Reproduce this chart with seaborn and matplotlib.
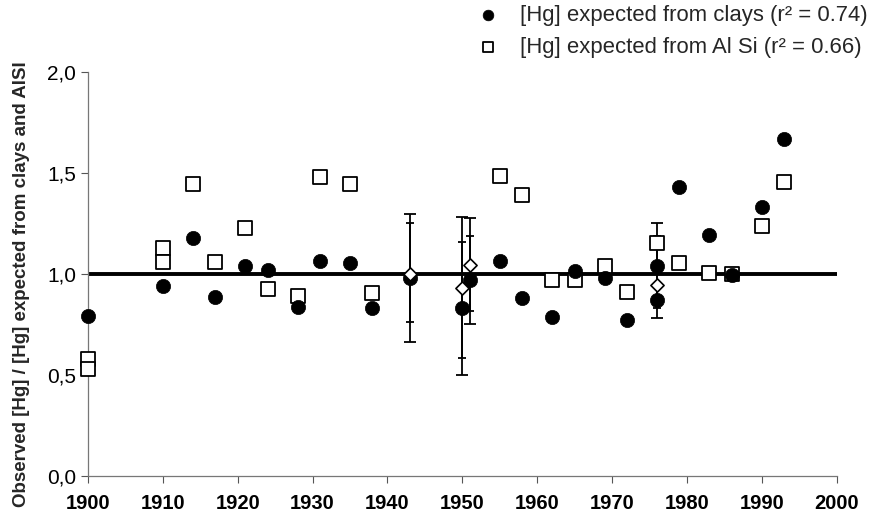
import numpy as np
import pandas as pd
import matplotlib
matplotlib.use("Agg")
import matplotlib.pyplot as plt
import seaborn as sns

# Valores
years_clay = [1900, 1910, 1914, 1917, 1921, 1924, 1928, 1931, 1935, 1938, 1943,
              1950, 1951, 1955, 1958, 1962, 1965, 1969, 1972, 1976, 1976, 1979,
              1983, 1986, 1990, 1993]
ratio_clay = [0.79, 0.94, 1.18, 0.885, 1.04, 1.02, 0.835, 1.066, 1.053, 0.83, 0.98,
              0.833, 0.97, 1.066, 0.883, 0.789, 1.013, 0.978, 0.772, 1.04, 0.871, 1.432,
              1.193, 0.995, 1.33, 1.667]

years_alsi = [1900, 1900, 1910, 1910, 1914, 1917, 1921, 1924, 1928, 1931, 1935, 1938,
              1955, 1958, 1962, 1965, 1969, 1972, 1976, 1979, 1983, 1986, 1990, 1993]
ratio_alsi = [0.578, 0.528, 1.13, 1.06, 1.445, 1.06, 1.226, 0.924, 0.893, 1.479, 1.445, 0.908,
              1.485, 1.391, 0.97, 0.97, 1.04, 0.912, 1.152, 1.056, 1.006, 0.998, 1.239, 1.457]

# Pontos com barras de erro (losangos)
years_err = [1943, 1950, 1951, 1976]
ratio_err = [1.0, 0.932, 1.045, 0.946]
outer_low = [0.662, 0.50, 0.752, 0.781]
outer_high = [1.297, 1.284, 1.276, 1.251]
inner_low = [0.762, 0.583, 0.817, 0.83]
inner_high = [1.254, 1.16, 1.188, 1.19]

x_ticks = [1900, 1910, 1920, 1930, 1940, 1950, 1960, 1970, 1980, 1990, 2000]
y_ticks = [0.0, 0.5, 1.0, 1.5, 2.0]
y_ticklabels = ["0,0", "0,5", "1,0", "1,5", "2,0"]

clay_df = pd.DataFrame({"year": years_clay, "ratio": ratio_clay})
alsi_df = pd.DataFrame({"year": years_alsi, "ratio": ratio_alsi})

sns.set_style("ticks")
plt.rcParams["font.family"] = ["Liberation Sans", "DejaVu Sans"]

fig = plt.figure(figsize=(8.77, 5.2), dpi=100)
ax = fig.add_axes([0.1003, 0.0846, 0.8537, 0.777])

# linha de referencia
ax.axhline(1.0, color="black", lw=2.8, zorder=2)

# barras de erro
y = np.array(ratio_err)
ax.errorbar(years_err, ratio_err,
            yerr=[y - np.array(outer_low), np.array(outer_high) - y],
            fmt="none", ecolor="black", elinewidth=1.3, capsize=4, capthick=1.3,
            zorder=3, clip_on=False)
ax.errorbar(years_err, ratio_err,
            yerr=[y - np.array(inner_low), np.array(inner_high) - y],
            fmt="none", ecolor="black", elinewidth=1.3, capsize=3, capthick=1.3,
            zorder=3, clip_on=False)

sns.scatterplot(data=alsi_df, x="year", y="ratio", ax=ax, marker="s", s=95,
                facecolor="white", edgecolor="black", linewidth=1.3,
                label="[Hg] expected from Al Si (r² = 0.66)", zorder=4, clip_on=False)
sns.scatterplot(data=clay_df, x="year", y="ratio", ax=ax, marker="o", s=105,
                color="black", edgecolor="black", linewidth=0.5,
                label="[Hg] expected from clays (r² = 0.74)", zorder=5, clip_on=False)
ax.scatter(years_err, ratio_err, marker="D", s=45, facecolor="white",
           edgecolor="black", linewidth=1.2, zorder=6, clip_on=False)

ax.set_xlim(1900, 2000)
ax.set_ylim(0, 2.0)
ax.set_xticks(x_ticks)
ax.set_xticklabels([str(t) for t in x_ticks], fontsize=14.5, fontweight="bold")
ax.set_yticks(y_ticks)
ax.set_yticklabels(y_ticklabels, fontsize=15)
ax.tick_params(axis="both", colors="#555555", length=5, width=0.8, labelcolor="black")
ax.tick_params(axis="x", pad=8)
ax.set_xlabel("")
ax.set_ylabel("Observed [Hg] / [Hg] expected from clays and AlSI",
              fontsize=13.5, fontweight="bold")
ax.yaxis.set_label_coords(-0.077, 0.475)
sns.despine(ax=ax)
for side in ["left", "bottom"]:
    ax.spines[side].set_color("#777777")
    ax.spines[side].set_linewidth(0.9)

handles, labels = ax.get_legend_handles_labels()
ax.legend(handles[::-1], labels[::-1], loc="upper right",
          bbox_to_anchor=(0.999, 1.008), bbox_transform=fig.transFigure,
          frameon=False, fontsize=15.9, handletextpad=0.95, labelspacing=0.5,
          handlelength=1.0, borderaxespad=0.0, markerscale=0.75)

fig.savefig("out.png", dpi=100)
